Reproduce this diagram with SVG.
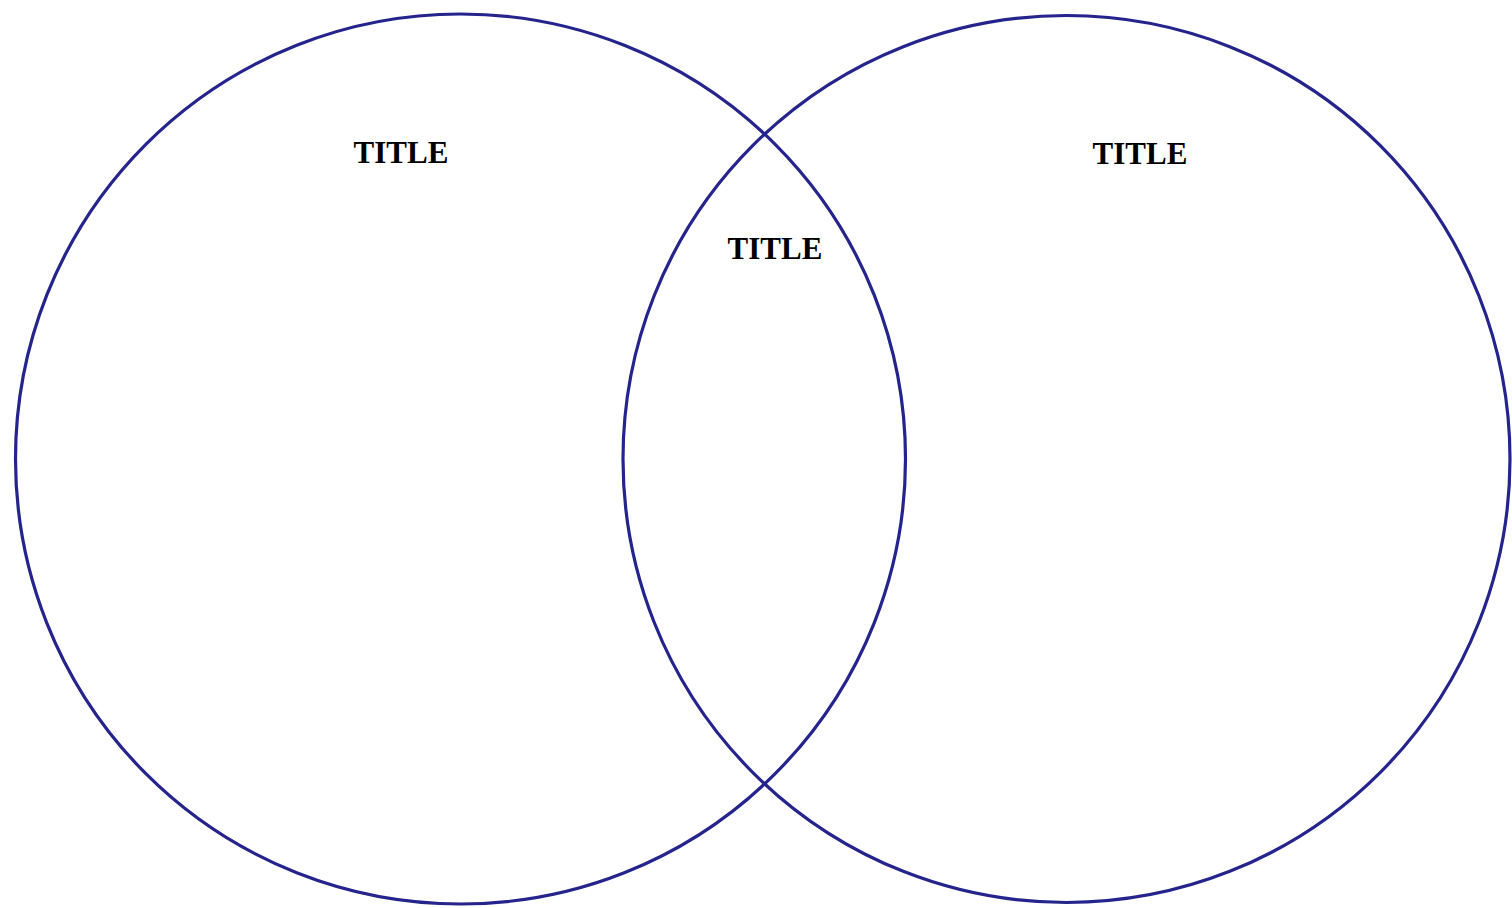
<svg xmlns="http://www.w3.org/2000/svg" width="1512" height="908" viewBox="0 0 1512 908">
<style>
.c{fill:none;stroke:#24248c;stroke-width:3.2}
.t{font-family:"Liberation Serif",serif;font-weight:bold;font-size:31px;fill:#000;text-anchor:middle}
</style>
<rect width="1512" height="908" fill="#fff"/>
<g id="left-circle"><circle class="c" cx="460.5" cy="459" r="445"/><text class="t" x="401" y="163">TITLE</text></g>
<g id="right-circle"><circle class="c" cx="1066.5" cy="459" r="443.5"/><text class="t" x="1140" y="164">TITLE</text></g>
<g id="overlap"><text class="t" x="775" y="259">TITLE</text></g>
<g id="connectors"></g>
</svg>
